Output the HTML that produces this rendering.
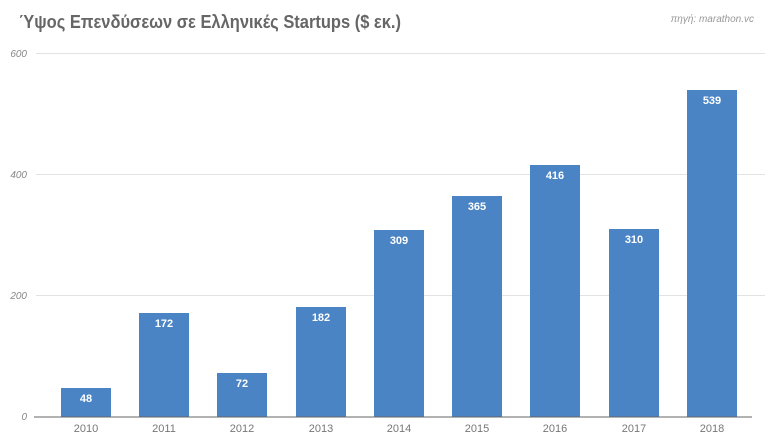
<!DOCTYPE html>
<html><head><meta charset="utf-8"><style>
body{margin:0;background:#fff;}
svg{display:block;font-family:"Liberation Sans",sans-serif;}
</style></head><body>
<svg width="768" height="444" viewBox="0 0 768 444">
<rect width="768" height="444" fill="#fff"/>
<text x="19" y="28" font-size="18" font-weight="bold" fill="#666" textLength="382" lengthAdjust="spacingAndGlyphs">Ύψος Επενδύσεων σε Ελληνικές Startups ($ εκ.)</text>
<text x="754" y="22" font-size="10" font-style="italic" fill="#999" text-anchor="end">πηγή: marathon.vc</text>
<g stroke="#e3e3e3" stroke-width="1">
<line x1="36" y1="53.5" x2="765" y2="53.5"/>
<line x1="36" y1="174.5" x2="765" y2="174.5"/>
<line x1="36" y1="295.5" x2="765" y2="295.5"/>
</g>
<g font-size="10" font-style="italic" fill="#888" text-anchor="end">
<text x="27" y="57">600</text><text x="27" y="178">400</text><text x="27" y="299">200</text><text x="27" y="420">0</text>
</g>
<g fill="#4a84c4">
<rect x="61" y="388" width="50" height="29"/>
<rect x="139" y="313" width="50" height="104"/>
<rect x="217" y="373" width="50" height="44"/>
<rect x="296" y="307" width="50" height="110"/>
<rect x="374" y="230" width="50" height="187"/>
<rect x="452" y="196" width="50" height="221"/>
<rect x="530" y="165" width="50" height="252"/>
<rect x="609" y="229" width="50" height="188"/>
<rect x="687" y="90" width="50" height="327"/>
</g>
<line x1="34" y1="417" x2="752" y2="417" stroke="#666" stroke-width="1"/>
<g font-size="11" font-weight="bold" fill="#fff" text-anchor="middle">
<text x="86" y="402">48</text><text x="164" y="327">172</text><text x="242" y="387">72</text>
<text x="321" y="321">182</text><text x="399" y="244">309</text><text x="477" y="210">365</text>
<text x="555" y="179">416</text><text x="634" y="243">310</text><text x="712" y="104">539</text>
</g>
<g font-size="11" fill="#777" text-anchor="middle">
<text x="86" y="432">2010</text><text x="164" y="432">2011</text><text x="242" y="432">2012</text>
<text x="321" y="432">2013</text><text x="399" y="432">2014</text><text x="477" y="432">2015</text>
<text x="555" y="432">2016</text><text x="634" y="432">2017</text><text x="712" y="432">2018</text>
</g>
</svg>
</body></html>
